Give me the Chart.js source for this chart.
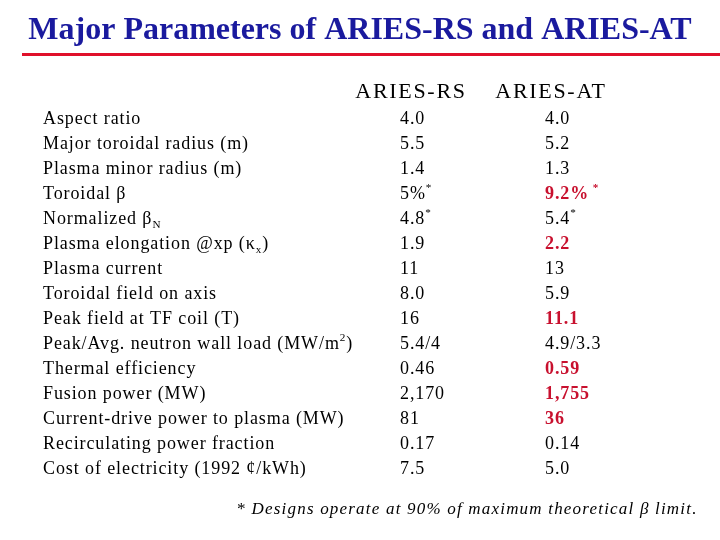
<!DOCTYPE html>
<html>
<head>
<meta charset="utf-8">
<script src="https://cdn.jsdelivr.net/npm/chart.js@4.4.0/dist/chart.umd.min.js"></script>
<style>
  html, body { margin: 0; padding: 0; background: #fff; }
  #wrap { width: 720px; height: 540px; }
</style>
</head>
<body>
<div id="wrap"><canvas id="tbl"></canvas></div>
<script>
// Table data: _{..} = subscript, ^{..} = superscript
const parameters = [
  'Aspect ratio', 'Major toroidal radius (m)', 'Plasma minor radius (m)', 'Toroidal β',
  'Normalized β_{N}', 'Plasma elongation @xp (κ_{x})', 'Plasma current', 'Toroidal field on axis',
  'Peak field at TF coil (T)', 'Peak/Avg. neutron wall load (MW/m^{2})', 'Thermal efficiency',
  'Fusion power (MW)', 'Current-drive power to plasma (MW)', 'Recirculating power fraction',
  'Cost of electricity (1992 ¢/kWh)'
];
const ariesRS = ['4.0', '5.5', '1.4', '5%^{*}', '4.8^{*}', '1.9', '11', '8.0', '16', '5.4/4',
  '0.46', '2,170', '81', '0.17', '7.5'];
const ariesAT = ['4.0', '5.2', '1.3', '9.2%^{ *}', '5.4^{*}', '2.2', '13', '5.9', '11.1', '4.9/3.3',
  '0.59', '1,755', '36', '0.14', '5.0'];
// rows where the ARIES-AT value is highlighted
const highlightAT = [3, 5, 8, 10, 11, 12];
const columnHeaders = ['ARIES-RS', 'ARIES-AT'];

const SERIF = '"Liberation Serif", "Times New Roman", serif';
const RED = '#c8102e';
const COL_X = [43, 400, 545]; // left edge of each text column

function parseRich(s) {
  const out = [];
  const re = /([_^])\{([^}]*)\}/g;
  let last = 0, m;
  while ((m = re.exec(s))) {
    if (m.index > last) out.push({ t: s.slice(last, m.index), k: 'n' });
    out.push({ t: m[2], k: m[1] === '_' ? 'sub' : 'sup' });
    last = re.lastIndex;
  }
  if (last < s.length) out.push({ t: s.slice(last), k: 'n' });
  return out;
}

function drawRich(ctx, s, x, y, size, weight, color) {
  ctx.fillStyle = color;
  ctx.textBaseline = 'alphabetic';
  const base = y + size * 0.33;
  for (const seg of parseRich(s)) {
    const sz = seg.k === 'n' ? size : size * 0.62;
    const dy = seg.k === 'sub' ? size * 0.22 : seg.k === 'sup' ? -size * 0.42 : 0;
    ctx.font = `${weight} ${sz}px ${SERIF}`;
    ctx.fillText(seg.t, x, base + dy);
    x += ctx.measureText(seg.t).width;
  }
}

const cellText = [parameters, ariesRS, ariesAT];
const datasets = cellText.map((col, c) => ({
  label: c === 0 ? 'Parameter' : columnHeaders[c - 1],
  data: col.map((_, i) => ({ x: COL_X[c], y: i })),
  pointRadius: 0
}));

const tablePlugin = {
  id: 'tableText',
  afterDatasetsDraw(chart) {
    const ctx = chart.ctx;
    ctx.save();
    // title
    ctx.letterSpacing = '0px';
    ctx.font = `bold 32px ${SERIF}`;
    ctx.fillStyle = '#1a1a9e';
    ctx.textAlign = 'center';
    ctx.textBaseline = 'alphabetic';
    ctx.fillText('Major Parameters of ARIES-RS and ARIES-AT', 360, 39);
    ctx.fillStyle = '#e0102a';
    ctx.fillRect(22, 53, 698, 3);
    // column headers
    ctx.letterSpacing = '1.7px';
    ctx.font = `22px ${SERIF}`;
    ctx.fillStyle = '#000';
    ctx.fillText(columnHeaders[0], 411, 98);
    ctx.fillText(columnHeaders[1], 551, 98);
    ctx.textAlign = 'left';
    // cells
    ctx.letterSpacing = '0.9px';
    chart.data.datasets.forEach((ds, c) => {
      chart.getDatasetMeta(c).data.forEach((pt, i) => {
        const hi = c === 2 && highlightAT.includes(i);
        drawRich(ctx, cellText[c][i], pt.x, pt.y, 18, hi ? 'bold' : 'normal', hi ? RED : '#000');
      });
    });
    // footnote
    ctx.letterSpacing = '1.2px';
    ctx.font = `italic 17px ${SERIF}`;
    ctx.fillStyle = '#000';
    ctx.textAlign = 'center';
    ctx.fillText('* Designs operate at 90% of maximum theoretical β limit.', 467, 514);
    ctx.restore();
  }
};

new Chart(document.getElementById('tbl'), {
  type: 'scatter',
  data: { datasets },
  options: {
    responsive: true,
    maintainAspectRatio: false,
    animation: false,
    layout: { padding: { top: 105.5, bottom: 59.5, left: 0, right: 0 } },
    plugins: { legend: { display: false }, tooltip: { enabled: false } },
    scales: {
      x: { type: 'linear', min: 0, max: 720, display: false },
      y: { type: 'linear', min: -0.5, max: 14.5, reverse: true, display: false }
    }
  },
  plugins: [tablePlugin]
});
</script>
</body>
</html>
